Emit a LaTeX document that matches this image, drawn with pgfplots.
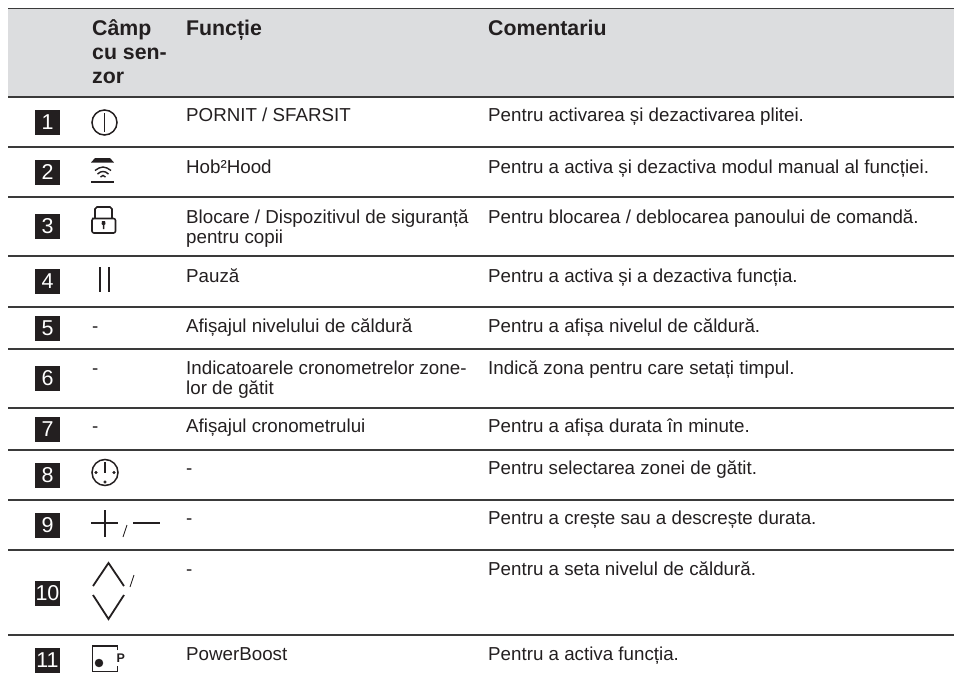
\documentclass[border=0pt]{standalone}
\usepackage{pgfplots}
\pgfplotsset{compat=1.18}
\usepackage{fontspec}
\setmainfont{Liberation Sans}
\definecolor{ink}{HTML}{231F20}
\definecolor{band}{HTML}{DCDDDF}
\definecolor{rule}{HTML}{3A3A3A}
\newcommand{\body}{\fontsize{18.75}{20}\selectfont\color{ink}}
\newcommand{\head}{\fontsize{21.3}{23.5}\selectfont\bfseries\color{ink}}
\newcommand{\num}{\fontsize{21.5}{20}\selectfont\color{white}}
\begin{document}
\begin{tikzpicture}[x=1pt,y=1pt]
\begin{axis}[
  scale only axis, width=954pt, height=680pt,
  xmin=0, xmax=954, ymin=0, ymax=680, y dir=reverse,
  hide axis, clip=false,
  every axis plot/.append style={line cap=butt},
]
\path[use as bounding box] (axis cs:0,0) rectangle (axis cs:954,680);
% header band
\addplot[draw=none, fill=band] coordinates {(8,9) (954,9) (954,97) (8,97)} --cycle;
% rules
\pgfplotsforeachungrouped \yy/\lw in {8.5/1.5,97/1.6,147/2,197/1.6,256/1.6,307/1.6,348.5/2,408/1.6,450/2,500/1.6,550/1.6,635/1.6}{
  \edef\doit{\noexpand\addplot[rule, line width=\lw pt] coordinates {(8,\yy) (954,\yy)};}
  \doit
}
% number squares
\pgfplotsforeachungrouped \a/\b in {110/135,160/185,214/239,269/294,316/341,366/391,417/442,463/488,513/538,581/606,648/673}{
  \edef\doit{\noexpand\addplot[draw=none, fill=ink] coordinates {(35,\a) (60,\a) (60,\b) (35,\b)} --cycle;}
  \doit
}
\newcommand{\nm}[2]{\node[anchor=base,inner sep=0pt] at (axis cs:47.5,#1) {\num #2};}
\nm{129.5}{1}\nm{179.5}{2}\nm{233.5}{3}\nm{288.5}{4}\nm{335.5}{5}\nm{385.5}{6}\nm{436.5}{7}\nm{482.5}{8}\nm{532.5}{9}\nm{600.5}{10}\nm{667.5}{11}
% header text
\newcommand{\hd}[3]{\node[anchor=base west,inner sep=0pt] at (axis cs:#1,#2) {\head #3};}
\hd{92}{35.5}{Câmp}\hd{92}{59.5}{cu sen-}\hd{92}{83}{zor}\hd{186}{35.5}{Funcție}\hd{488}{35.5}{Comentariu}
% body text
\newcommand{\bt}[3]{\node[anchor=base west,inner sep=0pt] at (axis cs:#1,#2) {\body #3};}
\bt{186}{121.5}{PORNIT / SFARSIT}
\bt{186}{173}{Hob²Hood}
\bt{186}{223}{Blocare / Dispozitivul de siguranță}
\bt{186}{243}{pentru copii}
\bt{186}{282}{Pauză}
\bt{186}{332}{Afișajul nivelului de căldură}
\bt{186}{374}{Indicatoarele cronometrelor zone-}
\bt{186}{394}{lor de gătit}
\bt{186}{432}{Afișajul cronometrului}
\bt{186}{474}{-}
\bt{186}{524}{-}
\bt{186}{575}{-}
\bt{186}{660}{PowerBoost}
\bt{92}{332}{-}
\bt{92}{374}{-}
\bt{92}{432}{-}
\bt{488}{121.5}{Pentru activarea și dezactivarea plitei.}
\bt{488}{173}{Pentru a activa și dezactiva modul manual al funcției.}
\bt{488}{223}{Pentru blocarea / deblocarea panoului de comandă.}
\bt{488}{282}{Pentru a activa și a dezactiva funcția.}
\bt{488}{332}{Pentru a afișa nivelul de căldură.}
\bt{488}{374}{Indică zona pentru care setați timpul.}
\bt{488}{432}{Pentru a afișa durata în minute.}
\bt{488}{474}{Pentru selectarea zonei de gătit.}
\bt{488}{524}{Pentru a crește sau a descrește durata.}
\bt{488}{575}{Pentru a seta nivelul de căldură.}
\bt{488}{660}{Pentru a activa funcția.}
% icons
\newcommand{\ic}[2][]{\addplot[ink, line width=1.5pt, #1] coordinates {#2};}
\draw[ink,line width=1.5pt] (axis cs:104.5,122.5) circle[radius=12.5pt];
\ic{(104.5,113) (104.5,132)}
% hob2hood
\addplot[draw=none,fill=ink] coordinates {(95,158) (110,158) (114,162.5) (91,162.5)} --cycle;
\ic[line width=1.9pt]{(91,181.7) (114,181.7)}
\ic[line width=1.4pt]{(95,170.5) (99,168) (103,167) (107,168) (111,170.5)}
\ic[line width=1.4pt]{(97.5,174) (100.5,172) (103,171.5) (105.5,172) (108.5,174)}
\ic[line width=1.4pt]{(100.5,177) (103,175.5) (105.5,177)}
% lock
\ic[line width=1.6pt]{(95,218) (95,209) (97,207) (110,207) (112,209) (112,218)}
\ic[line width=1.6pt,rounded corners=2pt]{(92,218.5) (115.5,218.5) (115.5,233) (92,233) (92,218.5) (100,218.5)}
\addplot[draw=none,fill=ink] coordinates {(102,221) (105,221) (105.5,224) (104.4,225) (104.4,229) (102.8,229) (102.8,225) (101.6,224)} --cycle;
% pause
\ic{(100,267) (100,292)}
\ic{(109,267) (109,292)}
% clock
\draw[ink,line width=1.5pt] (axis cs:105,472.5) circle[radius=13pt];
\ic[line width=1.7pt]{(105,462) (105,473)}
\addplot[only marks, mark=*, mark size=1.3pt, ink] coordinates {(96,472.5) (114,472.5) (105,482)};
% plus / minus
\ic[line width=1.8pt]{(91,523) (118,523)}
\ic[line width=1.8pt]{(105,510) (105,537)}
\ic[line width=.9pt]{(123,537) (127,525)}
\ic[line width=2.1pt]{(133,523) (160,523)}
% chevrons
\ic[line width=1.8pt]{(93,586) (108.5,563) (124,586)}
\ic[line width=1.8pt]{(93,595) (108.5,619) (124,595)}
\ic[line width=.9pt]{(130,587) (134,575)}
% powerboost
\ic[line width=1.6pt]{(117.5,650) (117.5,646) (92.5,646) (92.5,671.5) (117.5,671.5) (117.5,665.5)}
\addplot[only marks, mark=*, mark size=4pt, ink] coordinates {(99,663)};
\node[anchor=base west,inner sep=0pt] at (axis cs:116.5,662) {\fontsize{12.5}{13}\selectfont\bfseries\color{ink}P};
\end{axis}
\end{tikzpicture}
\end{document}
